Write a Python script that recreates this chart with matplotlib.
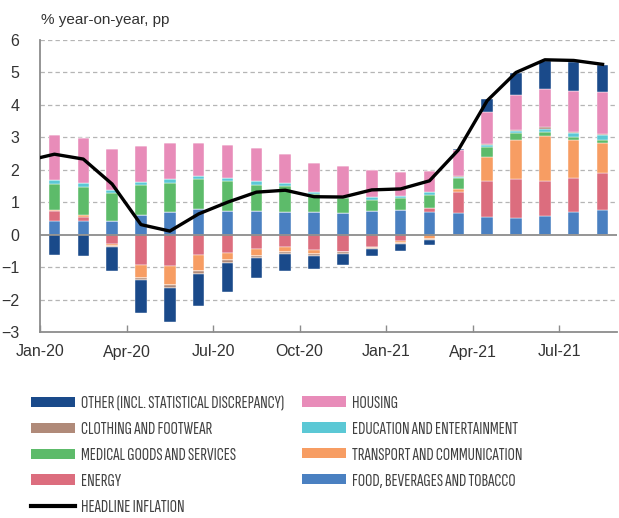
import matplotlib
matplotlib.use("Agg")
import matplotlib.pyplot as plt
import numpy as np
from matplotlib.patches import Patch
from matplotlib.lines import Line2D

months = ["Jan-20", "Feb-20", "Mar-20", "Apr-20", "May-20", "Jun-20", "Jul-20",
          "Aug-20", "Sep-20", "Oct-20", "Nov-20", "Dec-20", "Jan-21", "Feb-21",
          "Mar-21", "Apr-21", "May-21", "Jun-21", "Jul-21", "Aug-21"]
tick_labels = ["Jan-20", "Apr-20", "Jul-20", "Oct-20", "Jan-21", "Apr-21", "Jul-21"]

# contributions, pp (stack order from zero outwards)
food = [0.41, 0.41, 0.42, 0.62, 0.69, 0.79, 0.72, 0.72, 0.69, 0.69,
        0.66, 0.72, 0.75, 0.71, 0.68, 0.54, 0.52, 0.56, 0.69, 0.75]
energy = [0.32, 0.12, -0.30, -0.95, -0.97, -0.64, -0.55, -0.45, -0.39, -0.48,
          -0.52, -0.39, -0.19, 0.11, 0.62, 1.10, 1.19, 1.08, 1.07, 1.14]
transport = [0.04, 0.08, -0.06, -0.39, -0.57, -0.48, -0.23, -0.20, -0.14, -0.11,
             -0.02, -0.03, -0.06, -0.12, 0.10, 0.74, 1.21, 1.40, 1.15, 0.95]
medical = [0.80, 0.85, 0.86, 0.90, 0.91, 0.93, 0.92, 0.82, 0.80, 0.55,
           0.48, 0.36, 0.38, 0.41, 0.34, 0.31, 0.20, 0.13, 0.09, 0.09]
education = [0.11, 0.12, 0.11, 0.10, 0.11, 0.10, 0.10, 0.10, 0.09, 0.09,
             0.03, 0.07, 0.05, 0.07, 0.05, 0.07, 0.08, 0.09, 0.13, 0.13]
clothing = [-0.02, -0.02, -0.02, -0.06, -0.09, -0.09, -0.08, -0.06, -0.06, -0.06,
            -0.06, -0.03, -0.05, -0.03, 0.02, 0.02, 0.04, 0.05, 0.04, 0.05]
housing = [1.40, 1.39, 1.26, 1.10, 1.10, 1.02, 1.01, 1.02, 0.90, 0.89,
           0.95, 0.85, 0.74, 0.66, 0.80, 1.00, 1.06, 1.18, 1.27, 1.28]
other = [-0.60, -0.64, -0.75, -1.00, -1.06, -0.98, -0.91, -0.64, -0.52, -0.40,
         -0.34, -0.20, -0.20, -0.17, 0.04, 0.39, 0.68, 0.87, 0.89, 0.85]

# headline inflation, first value is Dec-19 (outside the plotted range)
headline_pos = list(range(-1, 20))
headline = [2.27, 2.48, 2.33, 1.56, 0.31, 0.11, 0.64, 1.00, 1.31, 1.37, 1.17,
            1.16, 1.38, 1.41, 1.66, 2.61, 4.13, 5.00, 5.39, 5.37, 5.25]

series = [
    ("FOOD, BEVERAGES AND TOBACCO", food, "#4a80c1"),
    ("ENERGY", energy, "#dc6d7e"),
    ("TRANSPORT AND COMMUNICATION", transport, "#f79d63"),
    ("MEDICAL GOODS AND SERVICES", medical, "#5dbb6a"),
    ("EDUCATION AND ENTERTAINMENT", education, "#5bc8d5"),
    ("CLOTHING AND FOOTWEAR", clothing, "#b08a79"),
    ("HOUSING", housing, "#e88cb9"),
    ("OTHER (INCL. STATISTICAL DISCREPANCY)", other, "#1a4a8a"),
]
colors = {name: c for name, _, c in series}

plt.rcParams["font.family"] = ["Liberation Sans", "DejaVu Sans"]
TXT = "#333333"
GREY = "#8c8c8c"

fig = plt.figure(figsize=(6.19, 5.18), dpi=100)
ax = fig.add_axes([40 / 619, 1 - 332 / 518, 577 / 619, 292 / 518])

x = np.arange(len(months))
pos_base = np.zeros(len(months))
neg_base = np.zeros(len(months))
for name, vals, c in series:
    v = np.array(vals)
    p = np.where(v > 0, v, 0)
    n = np.where(v < 0, v, 0)
    ax.bar(x, p, 0.4, bottom=pos_base, color=c, edgecolor="white", linewidth=0.3, zorder=2)
    ax.bar(x, n, 0.4, bottom=neg_base, color=c, edgecolor="white", linewidth=0.3, zorder=2)
    pos_base += p
    neg_base += n

ax.plot(headline_pos, headline, color="black", lw=2.4, zorder=4, solid_joinstyle="round")

ax.set_xlim(-0.5, 19.5)
ax.set_ylim(-3, 6)
ax.set_yticks(range(-3, 7))
for yv in range(-2, 7):
    if yv != 0:
        ax.axhline(yv, color="#b5b5b5", lw=0.9, ls=(0, (3.5, 2.5)), zorder=1)
ax.axhline(0, color=GREY, lw=1.3, zorder=3)

ax.set_xticks(np.arange(-0.5, 19.5, 3))
ax.set_xticklabels(tick_labels)
ax.tick_params(axis="x", direction="in", length=5, color=GREY, width=1,
               labelsize=11.5, labelcolor=TXT, pad=9)
ax.tick_params(axis="y", length=0, labelsize=11.5, labelcolor=TXT, pad=15)

for s in ["top", "right"]:
    ax.spines[s].set_visible(False)
for s in ["left", "bottom"]:
    ax.spines[s].set_color(GREY)
    ax.spines[s].set_linewidth(1.3)

fig.text(41 / 619, 1 - 20 / 518, "% year-on-year, pp", fontsize=11, color=TXT,
         va="center", ha="left")

leg_size = 13
leg_font = dict(family=["Sofia Sans Extra Condensed", "Roboto Condensed", "DejaVu Sans"], size=leg_size)
col1 = ["OTHER (INCL. STATISTICAL DISCREPANCY)", "CLOTHING AND FOOTWEAR",
        "MEDICAL GOODS AND SERVICES", "ENERGY"]
col2 = ["HOUSING", "EDUCATION AND ENTERTAINMENT", "TRANSPORT AND COMMUNICATION",
        "FOOD, BEVERAGES AND TOBACCO"]
h1 = [Patch(facecolor=colors[n], edgecolor="none") for n in col1]
h1.append(Line2D([], [], color="black", lw=3))
l1 = col1 + ["HEADLINE INFLATION"]
h2 = [Patch(facecolor=colors[n], edgecolor="none") for n in col2]

fs = leg_size * 100 / 72
common = dict(loc="upper left", frameon=False, prop=leg_font, handlelength=44 / fs,
              handleheight=9 / fs, handletextpad=6 / fs, labelspacing=0.6,
              borderpad=0, borderaxespad=0, labelcolor="#404040")
leg1 = fig.legend(h1, l1, bbox_to_anchor=(31 / 619, 1 - 396 / 518), **common)
leg2 = fig.legend(h2, col2, bbox_to_anchor=(302 / 619, 1 - 396 / 518), **common)

fig.savefig("out.png", dpi=100)
